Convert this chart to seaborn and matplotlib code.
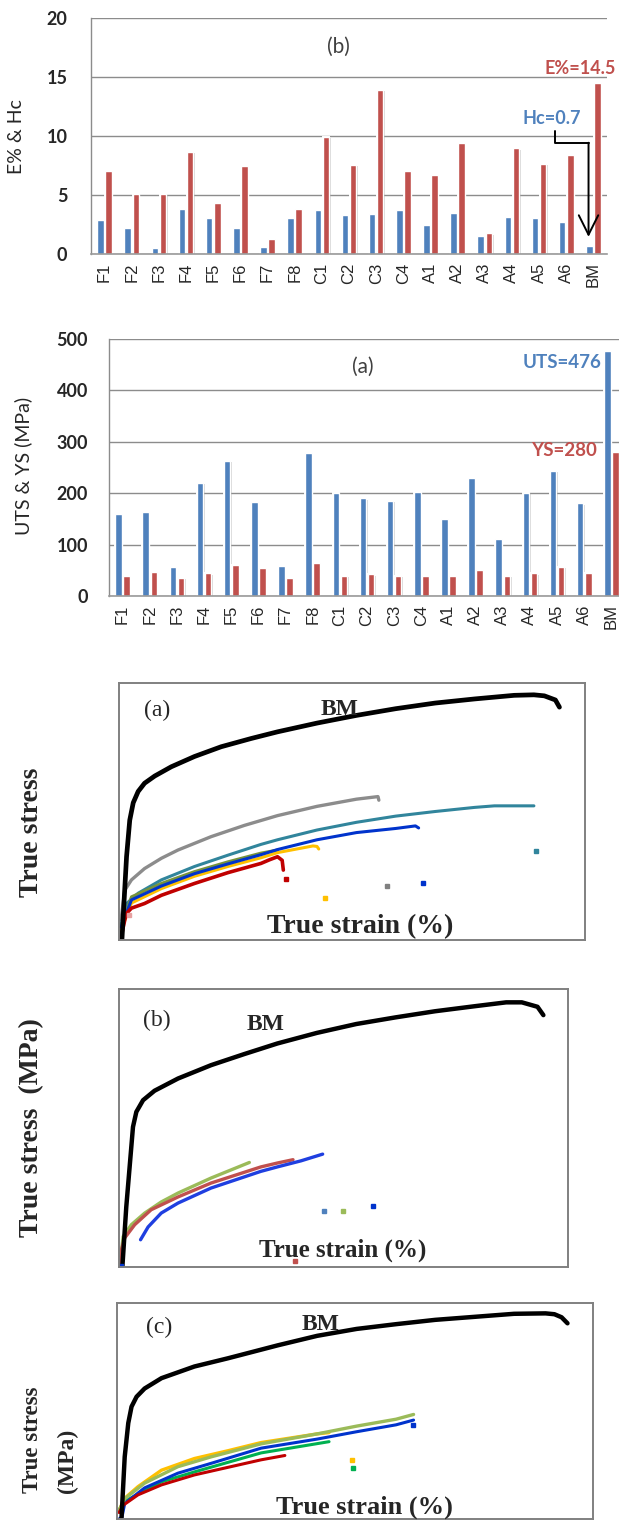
import numpy as np
import pandas as pd
import matplotlib
matplotlib.use("Agg")
import matplotlib.pyplot as plt
from matplotlib import patheffects as pe
import seaborn as sns

# ---------------- data ----------------
samples = ["F1", "F2", "F3", "F4", "F5", "F6", "F7", "F8", "C1", "C2", "C3", "C4",
           "A1", "A2", "A3", "A4", "A5", "A6", "BM"]
hc = [2.85, 2.2, 0.5, 3.8, 3.05, 2.2, 0.6, 3.05, 3.7, 3.3, 3.4, 3.7,
      2.5, 3.5, 1.55, 3.15, 3.05, 2.75, 0.7]
elong = [7.0, 5.1, 5.1, 8.65, 4.35, 7.5, 1.25, 3.85, 9.95, 7.55, 13.9, 7.0,
         6.7, 9.4, 1.75, 8.95, 7.65, 8.4, 14.5]
uts = [160, 163, 57, 220, 263, 183, 59, 278, 201, 190, 185, 203,
       150, 230, 110, 201, 243, 180, 476]
ys = [39, 47, 35, 44, 60, 55, 35, 65, 39, 42, 39, 39,
      39, 50, 39, 44, 57, 44, 280]

# true stress-strain curves (strain %, stress MPa)
bm_a_x = [0.05, 0.21, 0.32, 0.44, 0.61, 0.83, 1.18, 1.75, 2.55, 3.47, 4.5, 5.41, 6.77, 8.13, 9.48,
          10.84, 12.2, 13.56, 14.24, 14.6, 14.98, 15.12]
bm_a_y = [0, 162, 233, 267, 289, 305, 319, 337, 357, 376, 392, 405, 422, 437, 450,
          461, 469, 476, 477, 475, 467, 453]
gray_a_x = [0.02, 0.15, 0.38, 0.83, 1.41, 1.98, 3.12, 4.27, 5.41, 6.77, 8.13, 8.87, 8.9]
gray_a_y = [40, 97, 117, 139, 159, 175, 201, 223, 242, 260, 274, 279, 272]
teal_a_x = [0.02, 0.21, 0.61, 1.41, 2.55, 3.7, 4.84, 5.41, 6.77, 8.13, 9.48, 10.84, 12.2, 12.88, 14.24]
teal_a_y = [30, 71, 91, 117, 143, 165, 186, 195, 214, 229, 241, 250, 258, 261, 261]
olive_a_x = [0.02, 0.38, 1.41, 2.55, 3.7, 4.84, 5.41]
olive_a_y = [25, 84, 110, 133, 152, 169, 175]
blue_a_x = [0.02, 0.38, 1.41, 2.55, 3.7, 4.84, 5.41, 6.77, 8.13, 9.48, 10.16, 10.27]
blue_a_y = [25, 78, 105, 129, 148, 166, 176, 195, 209, 217, 222, 218]
gold_a_x = [0.02, 0.38, 1.41, 2.55, 3.7, 4.84, 5.41, 6.63, 6.77, 6.83]
gold_a_y = [20, 72, 100, 124, 143, 160, 170, 183, 182, 177]
red_a_x = [0.0, 0.15, 0.21, 0.38, 0.83, 1.41, 2.55, 3.7, 4.84, 5.13, 5.41, 5.57, 5.61]
red_a_y = [0, 39, 52, 62, 71, 87, 110, 131, 149, 156, 162, 155, 136]
dots_a_x = [9.17, 14.3, 10.43, 7.04, 5.71, 0.3]
dots_a_y = [106, 174, 110, 81, 118, 48]
dots_a_c = ["#808080", "#31859C", "#0033CC", "#FFC000", "#C00000", "#E6A0A0"]

bm_b_x = [0.07, 0.21, 0.33, 0.45, 0.57, 0.81, 1.22, 2.06, 3.24, 4.43, 5.61, 7.02, 8.43, 9.84,
          11.25, 12.66, 13.79, 14.35, 14.91, 15.12]
bm_b_y = [0, 108, 180, 252, 279, 300, 317, 339, 363, 383, 402, 421, 437, 449,
          460, 469, 476, 476, 468, 453]
green_b_x = [0.02, 0.1, 0.39, 0.87, 1.46, 2.06, 3.24, 4.61]
green_b_y = [20, 55, 76, 97, 117, 133, 160, 188]
red_b_x = [0.02, 0.04, 0.15, 0.51, 1.1, 2.06, 3.24, 5.02, 5.61, 6.17]
red_b_y = [5, 31, 52, 76, 103, 126, 151, 180, 187, 193]
blue_b_x = [0.72, 0.99, 1.46, 2.06, 3.24, 5.02, 5.61, 6.46, 7.23]
blue_b_y = [49, 72, 97, 115, 142, 172, 180, 191, 203]
dots_b_x = [7.27, 7.94, 9.02, 6.24, 0.03]
dots_b_y = [101, 101, 110, 10, 2]
dots_b_c = ["#4F81BD", "#9BBB59", "#0033CC", "#C0504D", "#0033CC"]

bm_c_x = [0.1, 0.21, 0.33, 0.44, 0.61, 0.88, 1.45, 2.56, 3.69, 4.81, 5.37, 6.7, 8.03, 9.36, 10.68,
          12.01, 13.34, 14.4, 14.7, 14.94, 15.14]
bm_c_y = [0, 144, 222, 260, 283, 302, 326, 353, 372, 392, 402, 424, 440, 451, 461,
          468, 475, 476, 474, 467, 453]
gold_c_x = [0.02, 0.21, 0.66, 1.45, 2.56, 3.69, 4.81, 6.7, 7.1]
gold_c_y = [20, 48, 75, 113, 140, 158, 177, 197, 200]
olive_c_x = [0.02, 0.21, 0.88, 2.0, 3.13, 4.81, 6.7, 8.03, 9.36, 9.95]
olive_c_y = [20, 47, 83, 121, 144, 174, 197, 215, 231, 242]
blue_c_x = [0.02, 0.12, 0.21, 0.88, 2.0, 3.13, 4.81, 6.7, 8.03, 9.36, 9.95]
blue_c_y = [0, 5, 36, 72, 106, 129, 164, 185, 202, 218, 229]
green_c_x = [0.02, 0.21, 1.45, 2.56, 4.81, 7.1]
green_c_y = [20, 41, 86, 109, 153, 179]
red_c_x = [0.02, 0.16, 0.66, 1.45, 2.56, 4.81, 5.61]
red_c_y = [15, 32, 56, 79, 102, 137, 147]
dots_c_x = [9.93, 7.87, 7.92]
dots_c_y = [218, 137, 119]
dots_c_c = ["#0033CC", "#FFC000", "#00B050"]

BLUE = "#4F81BD"
RED = "#C0504D"

sns.set_style("white")
plt.rcParams["font.family"] = ["Lato", "DejaVu Sans"]

W, H = 619, 1522
fig = plt.figure(figsize=(W / 100, H / 100), dpi=100)


def box(l, t, r, b):
    return [l / W, 1 - b / H, (r - l) / W, (b - t) / H]


def fpos(x, y):
    return x / W, 1 - y / H


bar_fx = [pe.SimplePatchShadow(offset=(1.0, -1.0), shadow_rgbFace="#8a8a8a", alpha=0.35),
          pe.Stroke(linewidth=1.4, foreground="white"), pe.Normal()]


def bar_panel(ax, first, second, ymax, step):
    df = pd.DataFrame({
        "sample": samples * 2,
        "value": list(first) + list(second),
        "kind": ["a"] * len(samples) + ["b"] * len(samples),
    })
    sns.barplot(data=df, x="sample", y="value", hue="kind", palette=[BLUE, RED],
                width=0.6, gap=0.2, saturation=1, legend=False, ax=ax, zorder=3)
    for p in ax.patches:
        p.set_path_effects(bar_fx)
    ax.set_xlim(-0.5, len(samples) - 0.5)
    ax.set_ylim(0, ymax)
    ax.set_yticks(np.arange(0, ymax + 1, step))
    ax.yaxis.grid(True, color="#8c8c8c", lw=1.0, zorder=0)
    ax.set_axisbelow(True)
    for s in ("top", "right"):
        ax.spines[s].set_visible(False)
    ax.spines["left"].set_color("#8c8c8c")
    ax.spines["left"].set_linewidth(1.0)
    ax.spines["bottom"].set_color("#9a9a9a")
    ax.spines["bottom"].set_linewidth(1.2)
    ax.spines["bottom"].set_zorder(4)
    ax.set_xlabel("")
    ax.set_ylabel("")
    ax.tick_params(axis="x", length=0, labelrotation=90, pad=6)
    ax.tick_params(axis="y", length=0)
    for t in ax.get_xticklabels():
        t.set_family(["Liberation Sans", "DejaVu Sans"])
        t.set_fontsize(12)
    for t in ax.get_yticklabels():
        t.set_fontweight("bold")
        t.set_fontsize(13)


# ---- (b) elongation & Hc ----
ax1 = fig.add_axes(box(91, 18, 607, 254))
bar_panel(ax1, hc, elong, 20, 5)
ax1.tick_params(axis="y", pad=17)
fig.text(*fpos(17, 137), "E% & Hc", rotation=90, ha="center", va="center", fontsize=14)
fig.text(*fpos(338, 47), "(b)", ha="center", va="center", fontsize=15, color="#404040")
fig.text(*fpos(616, 68), "E%=14.5", ha="right", va="center", fontsize=13, fontweight="bold", color=RED)
fig.text(*fpos(552, 118), "Hc=0.7", ha="center", va="center", fontsize=13, fontweight="bold", color=BLUE)
ax1.plot([16.57, 16.57, 17.82], [10.45, 9.43, 9.43], color="black", lw=1.4, zorder=5)
ax1.annotate("", xy=(17.82, 1.45), xytext=(17.82, 9.43),
             arrowprops=dict(arrowstyle="->,head_length=1.4,head_width=0.7", lw=1.4, color="black",
                             shrinkA=0, shrinkB=0), zorder=5)

# ---- (a) UTS & YS ----
ax2 = fig.add_axes(box(109, 339, 625, 596))
bar_panel(ax2, uts, ys, 500, 100)
ax2.tick_params(axis="y", pad=15)
fig.text(*fpos(23, 466), "UTS & YS (MPa)", rotation=90, ha="center", va="center", fontsize=14)
fig.text(*fpos(363, 367), "(a)", ha="center", va="center", fontsize=15, color="#404040")
fig.text(*fpos(602, 362), "UTS=476", ha="right", va="center", fontsize=13.5, fontweight="bold", color=BLUE)
fig.text(*fpos(597, 450), "YS=280", ha="right", va="center", fontsize=13.5, fontweight="bold", color=RED)

SERIF = ["Liberation Serif", "DejaVu Serif"]


def curve_panel(ax, curves, dots):
    for xs, yv, col, lw in curves:
        sns.lineplot(x=xs, y=yv, color=col, lw=lw, sort=False, estimator=None, ax=ax,
                     solid_capstyle="round", solid_joinstyle="round")
    dx, dy, dc = dots
    for x, y, c in zip(dx, dy, dc):
        ax.plot([x], [y], marker="s", ms=2.6, color=c, mec=c, ls="none")
    ax.set_xlim(-0.05, 16)
    ax.set_ylim(0, 500)
    ax.set_xticks([])
    ax.set_yticks([])
    ax.set_xlabel("")
    ax.set_ylabel("")
    for s in ax.spines.values():
        s.set_visible(True)
        s.set_color("#808080")
        s.set_linewidth(1.4)


# ---- curves (a) ----
axA = fig.add_axes(box(119, 683, 585, 940))
curve_panel(axA, [
    (gray_a_x, gray_a_y, "#8C8C8C", 2.4),
    (teal_a_x, teal_a_y, "#31859C", 2.2),
    (olive_a_x, olive_a_y, "#77933C", 2.2),
    (gold_a_x, gold_a_y, "#FFC000", 2.2),
    (blue_a_x, blue_a_y, "#0033CC", 2.2),
    (red_a_x, red_a_y, "#C00000", 2.6),
    (bm_a_x, bm_a_y, "black", 3.4),
], (dots_a_x, dots_a_y, dots_a_c))
fig.text(*fpos(157, 710), "(a)", ha="center", va="center", fontsize=17, family=SERIF)
fig.text(*fpos(340, 709), "BM", ha="center", va="center", fontsize=17, family=SERIF, fontweight="bold")
fig.text(*fpos(360, 927), "True strain (%)", ha="center", va="center", fontsize=20, family=SERIF, fontweight="bold")
fig.text(*fpos(32, 832), "True stress", rotation=90, ha="center", va="center", fontsize=20, family=SERIF, fontweight="bold")

# ---- curves (b) ----
axB = fig.add_axes(box(119, 989, 568, 1267))
curve_panel(axB, [
    (green_b_x, green_b_y, "#9BBB59", 2.4),
    (red_b_x, red_b_y, "#C0504D", 2.4),
    (blue_b_x, blue_b_y, "#1F3FE0", 2.4),
    (bm_b_x, bm_b_y, "black", 3.2),
], (dots_b_x, dots_b_y, dots_b_c))
fig.text(*fpos(157, 1020), "(b)", ha="center", va="center", fontsize=17, family=SERIF)
fig.text(*fpos(266, 1024), "BM", ha="center", va="center", fontsize=17, family=SERIF, fontweight="bold")
fig.text(*fpos(343, 1250), "True strain (%)", ha="center", va="center", fontsize=18, family=SERIF, fontweight="bold")
fig.text(*fpos(32, 1128), "True stress  (MPa)", rotation=90, ha="center", va="center", fontsize=20, family=SERIF, fontweight="bold")

# ---- curves (c) ----
axC = fig.add_axes(box(117, 1303, 593, 1519))
curve_panel(axC, [
    (gold_c_x, gold_c_y, "#FFC000", 2.4),
    (green_c_x, green_c_y, "#00B050", 2.2),
    (blue_c_x, blue_c_y, "#0033CC", 2.2),
    (olive_c_x, olive_c_y, "#9BBB59", 2.4),
    (red_c_x, red_c_y, "#C00000", 2.2),
    (bm_c_x, bm_c_y, "black", 3.2),
], (dots_c_x, dots_c_y, dots_c_c))
fig.text(*fpos(159, 1327), "(c)", ha="center", va="center", fontsize=17, family=SERIF)
fig.text(*fpos(321, 1325), "BM", ha="center", va="center", fontsize=17, family=SERIF, fontweight="bold")
fig.text(*fpos(364, 1507), "True strain (%)", ha="center", va="center", fontsize=19, family=SERIF, fontweight="bold")
fig.text(*fpos(32, 1493), "True stress", rotation=90, ha="center", va="bottom", fontsize=16.5, family=SERIF, fontweight="bold")
fig.text(*fpos(67, 1493), "(MPa)", rotation=90, ha="center", va="bottom", fontsize=17, family=SERIF, fontweight="bold")

fig.savefig("out.png", dpi=100)
